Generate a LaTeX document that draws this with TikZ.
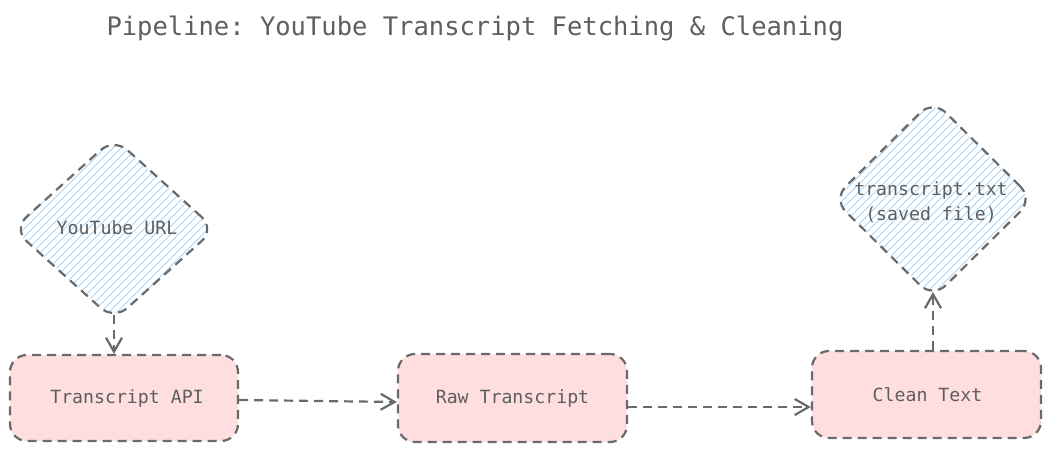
\documentclass[tikz,border=0pt]{standalone}
\usepackage{fontspec}
\setmonofont{DejaVu Sans Mono}
\usetikzlibrary{shapes.geometric,arrows.meta,calc}
\definecolor{strokegray}{HTML}{6A6A6A}
\definecolor{textgray}{HTML}{5E5E5E}
\definecolor{pinkfill}{HTML}{FFDEE0}
\definecolor{hatchblue}{HTML}{A8D6FA}
\tikzset{
  dashline/.style={draw=strokegray, line width=2.2pt, dash pattern=on 9pt off 6pt},
  procbox/.style={dashline, fill=pinkfill, rectangle, rounded corners=17pt,
    minimum width=228pt, minimum height=86pt, inner sep=0pt,
    font=\ttfamily\fontsize{18.2}{21}\selectfont, text=textgray},
  dataset/.style={dashline, diamond, rounded corners=18pt, inner sep=0pt, outer sep=0pt,
    font=\ttfamily\fontsize{18.2}{25}\selectfont, text=textgray, align=center,
    path picture={
      \foreach \i in {-400,-392,...,400}{
        \draw[hatchblue, line width=1pt, solid]
          ([xshift=\i pt]path picture bounding box.south west) -- ++(260pt,260pt);
      }
    }},
  flow/.style={dashline, -{Straight Barb[length=14pt,width=16pt,line width=2.2pt]}},
}
\begin{document}
\begin{tikzpicture}[x=1pt,y=-1pt]
  \useasboundingbox (0,0) rectangle (1052,452);
  \node[anchor=west, font=\ttfamily\fontsize{25.5}{30}\selectfont, text=textgray] (title) at (103,28) {Pipeline: YouTube Transcript Fetching \& Cleaning};

  \node[dataset, minimum width=202pt, minimum height=182pt] (url) at (114,229) {\phantom{x}};
  \node[font=\ttfamily\fontsize{18.2}{21}\selectfont, text=textgray] (urltext) at (117,228) {YouTube URL};

  \node[dataset, minimum width=200pt, minimum height=198pt] (file) at (933,199) {\phantom{x}};
  \node[font=\ttfamily\fontsize{18.2}{25}\selectfont, text=textgray, align=center] (filetext) at (931,202) {transcript.txt\\(saved file)};

  \node[procbox] (api) at (124,398) {\hspace{6pt}Transcript API};
  \node[procbox, minimum width=229pt, minimum height=88pt] (raw) at (512.5,398) {Raw Transcript};
  \node[procbox, minimum width=229pt, minimum height=87pt] (clean) at (926.5,394.5) {\hspace{2pt}Clean Text};

  \draw[flow] ([yshift=5pt]url.south) -- (url.south |- api.north);
  \draw[flow] ([yshift=-2pt]api.east) -- ([yshift=-4pt]raw.west);
  \draw[flow] ([yshift=-9pt]raw.east) -- ([yshift=-12.5pt]clean.west);
  \draw[flow] (file.south |- clean.north) -- ([yshift=6pt]file.south);
\end{tikzpicture}
\end{document}
